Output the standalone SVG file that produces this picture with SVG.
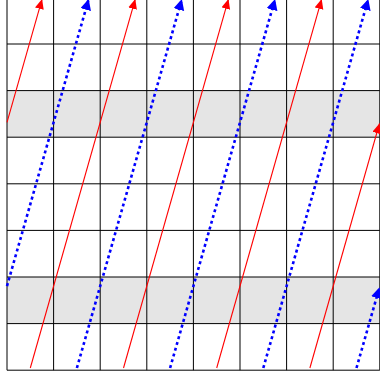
<svg xmlns="http://www.w3.org/2000/svg" width="380" height="378" viewBox="0 0 380 378">
<style>
.bg{fill:#ffffff}
.shade{fill:#e5e5e5}
.g{stroke:#000;stroke-width:1;fill:none}
.r{stroke:#ff0000;stroke-width:1.1;fill:none;marker-end:url(#ar)}
.b{stroke:#0000ff;stroke-width:2.6;stroke-dasharray:3 3;fill:none;marker-end:url(#ab)}
</style>
<defs>
<marker id="ar" markerUnits="userSpaceOnUse" markerWidth="12" markerHeight="10" refX="10" refY="4.5" orient="auto" viewBox="0 0 12 10">
<path d="M0,0 L10,4.5 L0,9 z" fill="#ff0000"/>
</marker>
<marker id="ab" markerUnits="userSpaceOnUse" markerWidth="13" markerHeight="12" refX="11" refY="5.5" orient="auto" viewBox="0 0 13 12">
<path d="M0,0 L11,5.5 L0,11 z" fill="#0000ff"/>
</marker>
</defs>
<rect class="bg" x="0" y="0" width="380" height="378"/>
<g id="shading">
<rect class="shade" x="7" y="90.6" width="372.8" height="46.6"/>
<rect class="shade" x="7" y="277" width="372.8" height="46.6"/>
</g>
<g id="grid">
<path class="g" d="M7,-3V370.2M53.6,-3V370.2M100.2,-3V370.2M146.8,-3V370.2M193.4,-3V370.2M240,-3V370.2M286.6,-3V370.2M333.2,-3V370.2M379.8,-3V370.2"/>
<path class="g" d="M7,44H379.8M7,90.6H379.8M7,137.2H379.8M7,183.8H379.8M7,230.4H379.8M7,277H379.8M7,323.6H379.8M7,370.2H379.8"/>
</g>
<g id="connectors">
<line class="r" x1="7" y1="122.3" x2="42.1" y2="-1"/>
<line class="b" x1="7" y1="286.1" x2="88.7" y2="-1"/>
<line class="r" x1="30.3" y1="368" x2="135.3" y2="-1"/>
<line class="b" x1="76.9" y1="368" x2="181.9" y2="-1"/>
<line class="r" x1="123.5" y1="368" x2="228.5" y2="-1"/>
<line class="b" x1="170.1" y1="368" x2="275.1" y2="-1"/>
<line class="r" x1="216.7" y1="368" x2="321.7" y2="-1"/>
<line class="b" x1="263.3" y1="368" x2="368.3" y2="-1"/>
<line class="r" x1="309.9" y1="368" x2="379.5" y2="123.4"/>
<line class="b" x1="356.5" y1="368" x2="379.5" y2="287.2"/>
</g>
</svg>
